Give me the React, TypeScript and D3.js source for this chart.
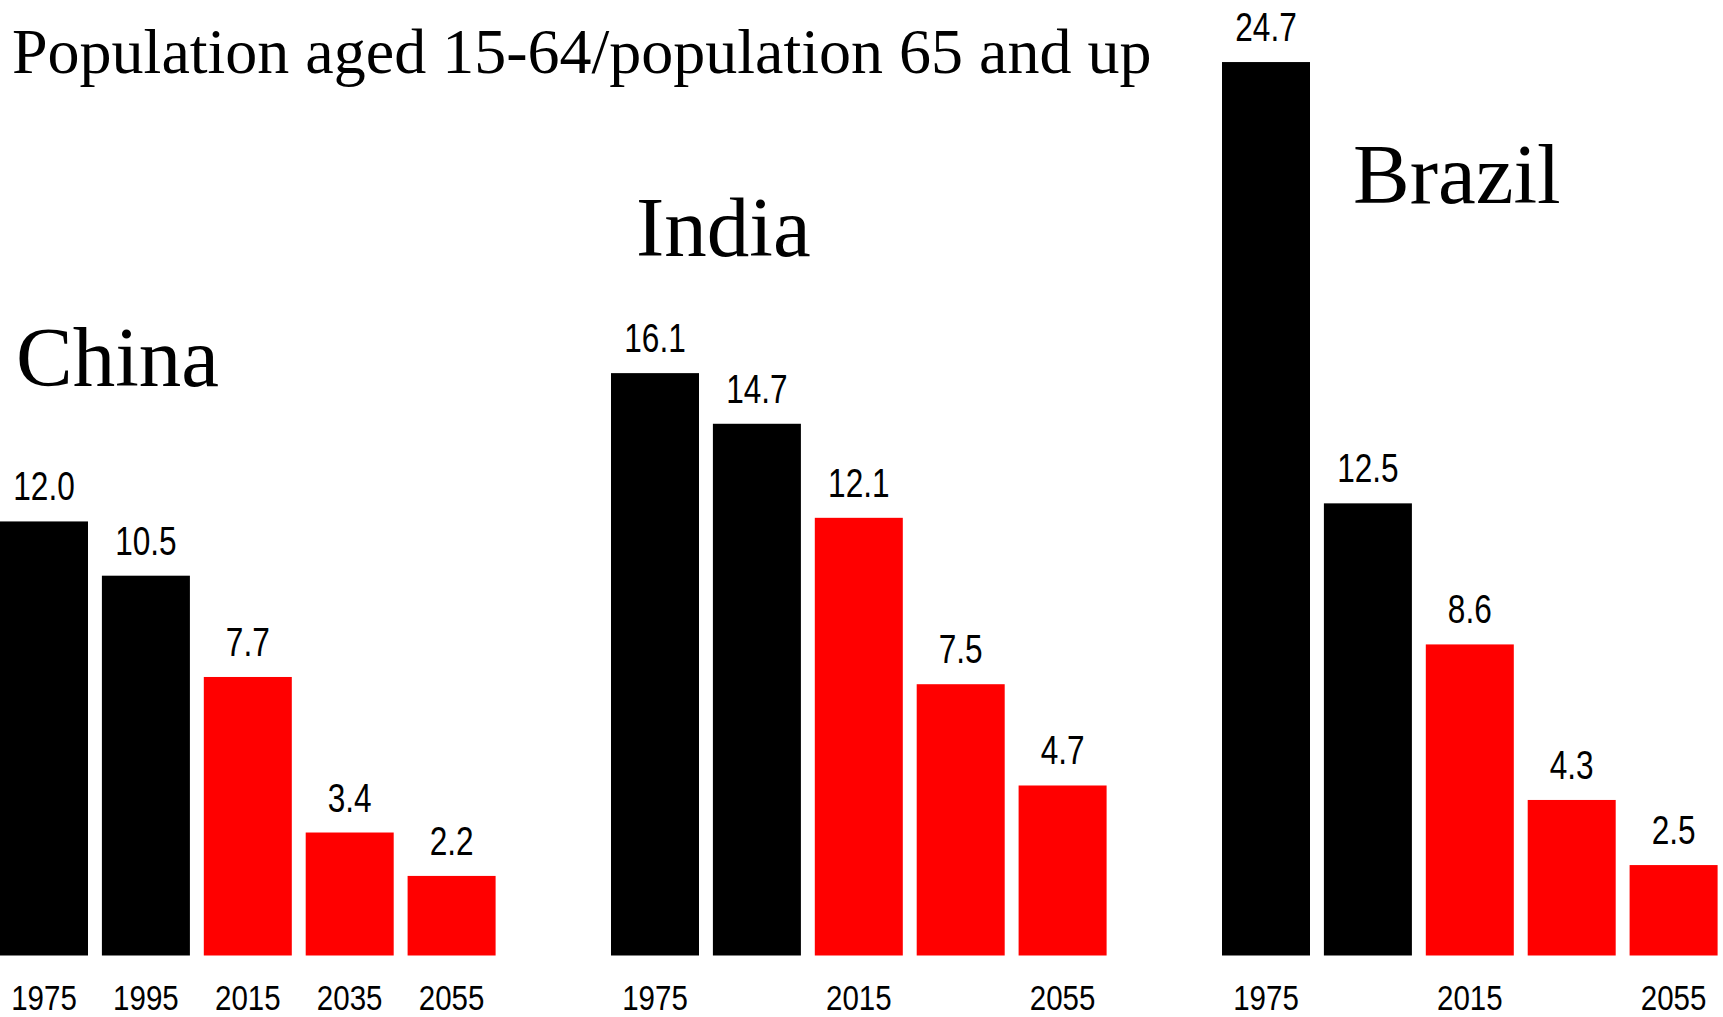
import React from "react";
import * as d3 from "d3";

// Potential support ratio: population aged 15-64 per person aged 65 and up
const countries = ["China", "India", "Brazil"];
const years = ["1975", "1995", "2015", "2035", "2055"];
const chinaValues = [12.0, 10.5, 7.7, 3.4, 2.2];
const indiaValues = [16.1, 14.7, 12.1, 7.5, 4.7];
const brazilValues = [24.7, 12.5, 8.6, 4.3, 2.5];
// Year ticks printed under each panel
const chinaTicks = ["1975", "1995", "2015", "2035", "2055"];
const indiaTicks = ["1975", "2015", "2055"];
const brazilTicks = ["1975", "2015", "2055"];
const projectedFrom = "2015";
const subtitle = "Population aged 15-64/population 65 and up";

const W = 1723;
const H = 1017;

const panels = [
  { name: countries[0], values: chinaValues, ticks: chinaTicks, label: { x: 16, y: 386 } },
  { name: countries[1], values: indiaValues, ticks: indiaTicks, label: { x: 636, y: 256 } },
  { name: countries[2], values: brazilValues, ticks: brazilTicks, label: { x: 1353, y: 203 } },
];

const serif = "'Liberation Serif', 'Times New Roman', serif";
const sans = "'Liberation Sans', Arial, sans-serif";

// Condensed sans label: a regular sans face squeezed horizontally around its anchor
function NarrowText(props: { x: number; y: number; size: number; squeeze: number; children: string }) {
  const { x, y, size, squeeze, children } = props;
  return (
    <text
      transform={`translate(${x},${y}) scale(${squeeze},1)`}
      textAnchor="middle"
      fontFamily={sans}
      fontSize={size}
      fill="#000"
    >
      {children}
    </text>
  );
}

export default function App() {
  const panelX = d3.scaleBand<string>().domain(countries).range([0, 1833]).padding(0);
  const x = d3
    .scaleBand<string>()
    .domain(years)
    .range([0, 495.6])
    .paddingInner(0.1364)
    .paddingOuter(0);
  const y = d3.scaleLinear().domain([0, 25]).range([955.5, 51.2]);
  const fmt = d3.format(".1f");
  const projectedIndex = years.indexOf(projectedFrom);
  const colour = (i: number) => (i >= projectedIndex ? "#ff0000" : "#000000");

  return (
    <svg
      width={W}
      height={H}
      viewBox={`0 0 ${W} ${H}`}
      style={{ position: "absolute", left: 0, top: 0, background: "#ffffff" }}
    >
      <rect x={0} y={0} width={W} height={H} fill="#ffffff" />
      <text x={12} y={73} fontFamily={serif} fontSize={64} fill="#000">
        {subtitle}
      </text>
      {panels.map((p) => {
        const ox = panelX(p.name) ?? 0;
        return (
          <g key={p.name} transform={`translate(${ox},0)`}>
            <text
              x={p.label.x - ox}
              y={p.label.y}
              fontFamily={serif}
              fontSize={85}
              fill="#000"
            >
              {p.name}
            </text>
            {p.values.map((v, i) => {
              const yr = years[i];
              const bx = x(yr) ?? 0;
              const cx = bx + x.bandwidth() / 2;
              return (
                <g key={yr}>
                  <rect
                    x={bx}
                    y={y(v)}
                    width={x.bandwidth()}
                    height={y(0) - y(v)}
                    fill={colour(i)}
                  />
                  <NarrowText x={cx} y={y(v) - 21} size={41} squeeze={0.77}>
                    {fmt(v)}
                  </NarrowText>
                </g>
              );
            })}
            {p.ticks.map((t) => (
              <NarrowText key={t} x={(x(t) ?? 0) + x.bandwidth() / 2} y={1010} size={36} squeeze={0.82}>
                {t}
              </NarrowText>
            ))}
          </g>
        );
      })}
    </svg>
  );
}
